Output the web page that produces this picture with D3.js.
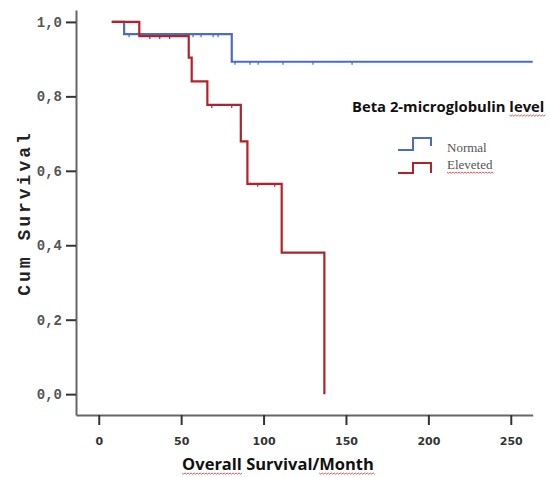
<!DOCTYPE html>
<html>
<head>
<meta charset="utf-8">
<script src="https://cdn.jsdelivr.net/npm/d3@7"></script>
<style>
  body { margin: 0; background: #fff; }
</style>
</head>
<body>
<div class="canvas"></div>
<script>
// data
const groups = ['Normal', 'Eleveted'];
const normalTime = [7.9, 15.4, 80.7, 263.3];
const normalSurv = [1, 0.967, 0.893, 0.893];
const normalCensor = [18.4, 57.2, 62.1, 69.4, 72.4, 82.7, 91.8, 96.7, 111.8, 130, 153.7];
const elevTime = [7.9, 24.6, 54.6, 56.4, 65.9, 86.2, 90.2, 111, 136.9];
const elevSurv = [1, 0.962, 0.904, 0.840, 0.777, 0.679, 0.565, 0.380, 0];
const elevCensor = [31, 37, 43, 68.6, 80.7, 96.5, 106.8];
const xTicks = [0, 50, 100, 150, 200, 250];
const yTicks = [0, 0.2, 0.4, 0.6, 0.8, 1.0];

const colour = { Normal: '#4a6cc6', Eleveted: '#b3222b' };

// svg
const svg = d3.select('.canvas')
  .append('svg')
  .attr('width', 550)
  .attr('height', 477);

// scales
const x = d3.scaleLinear().domain([-13.8, 263.3]).range([76, 532.7]);
const y = d3.scaleLinear().domain([-0.056, 1.032]).range([415, 10]);

// axes
const xAxis = svg.append('g')
  .attr('transform', 'translate(0,415)')
  .call(d3.axisBottom(x).tickValues(xTicks).tickSize(10).tickSizeOuter(0));
xAxis.select('.domain').attr('stroke', '#666').attr('stroke-width', 2);
xAxis.selectAll('.tick line').attr('stroke', '#333').attr('stroke-width', 2);
xAxis.selectAll('.tick text')
  .attr('dy', '1.55em')
  .attr('fill', '#333')
  .style('font-family', 'DejaVu Sans')
  .style('font-size', '11px')
  .style('font-weight', 'bold');

const yAxis = svg.append('g')
  .attr('transform', 'translate(76,0)')
  .call(d3.axisLeft(y).tickValues(yTicks).tickSize(10).tickSizeOuter(0)
    .tickFormat(d => d3.format('.1f')(d).replace('.', ',')));
yAxis.select('.domain').attr('stroke', '#666').attr('stroke-width', 2);
yAxis.selectAll('.tick line').attr('stroke', '#333').attr('stroke-width', 2);
yAxis.selectAll('.tick text')
  .attr('x', -14)
  .attr('fill', '#555')
  .style('font-family', 'Liberation Mono')
  .style('font-size', '14px')
  .style('font-weight', 'bold');

// step curves
const line = d3.line()
  .x(d => x(d[0]))
  .y(d => y(d[1]))
  .curve(d3.curveStepAfter);

const series = [
  { name: 'Normal', pts: d3.zip(normalTime, normalSurv), cens: normalCensor, width: 2.2 },
  { name: 'Eleveted', pts: d3.zip(elevTime, elevSurv), cens: elevCensor, width: 2.2 }
];

// survival value at time t
const survAt = (pts, t) => {
  let s = pts[0][1];
  pts.forEach(p => { if (p[0] <= t) s = p[1]; });
  return s;
};

series.forEach(s => {
  svg.append('path')
    .attr('d', line(s.pts))
    .attr('fill', 'none')
    .attr('stroke', colour[s.name])
    .attr('stroke-width', s.width);

  svg.selectAll(null)
    .data(s.cens)
    .enter()
    .append('line')
    .attr('x1', d => x(d)).attr('x2', d => x(d))
    .attr('y1', d => y(survAt(s.pts, d)))
    .attr('y2', d => y(survAt(s.pts, d)) + 3)
    .attr('stroke', colour[s.name])
    .attr('stroke-width', 1.2);
});

// axis titles
svg.append('text')
  .attr('transform', 'translate(30,213) rotate(-90)')
  .attr('text-anchor', 'middle')
  .attr('fill', '#222')
  .style('font-family', 'Liberation Mono')
  .style('font-size', '18px')
  .style('font-weight', 'bold')
  .style('letter-spacing', '3px')
  .text('Cum Survival');

const xTitle = svg.append('text')
  .attr('x', 278)
  .attr('y', 470)
  .attr('text-anchor', 'middle')
  .attr('fill', '#111')
  .style('font-family', 'Open Sans')
  .style('font-size', '16.5px')
  .style('font-weight', 'bold')
  .text('Overall Survival/Month');

// legend
const legTitle = svg.append('text')
  .attr('x', 352)
  .attr('y', 112)
  .attr('fill', '#111')
  .style('font-family', 'Open Sans')
  .style('font-size', '14.8px')
  .style('font-weight', 'bold')
  .text('Beta 2-microglobulin level');

const legend = svg.selectAll('.legend')
  .data(groups)
  .enter()
  .append('g')
  .attr('class', 'legend')
  .attr('transform', (d, i) => `translate(398, ${150 + i * 23})`);

legend.append('path')
  .attr('d', (d, i) => i === 0 ? 'M0,0H15V-12H33V-4' : 'M0,0H15V-10H33V0')
  .attr('fill', 'none')
  .attr('stroke', d => colour[d])
  .attr('stroke-width', 2);

const legText = legend.append('text')
  .attr('x', 49)
  .attr('y', (d, i) => i === 0 ? 2 : -4)
  .attr('fill', '#555')
  .style('font-family', 'Liberation Serif')
  .style('font-size', '13px')
  .text(d => d);

// red spell-check squiggles
const squiggle = (textNode, from, to) => {
  const a = textNode.getStartPositionOfChar(from);
  const b = textNode.getEndPositionOfChar(to);
  const m = textNode.getCTM();
  const x0 = a.x + m.e, x1 = b.x + m.e, yy = a.y + m.f + 3;
  let d = `M${x0},${yy}`;
  for (let xx = x0, k = 0; xx < x1; xx += 1.5, k++) {
    d += `L${xx + 1.5},${yy + (k % 2 ? 0 : 1.2)}`;
  }
  svg.append('path')
    .attr('d', d)
    .attr('fill', 'none')
    .attr('stroke', '#e03030')
    .attr('stroke-width', 0.8);
};

squiggle(legTitle.node(), 21, 25);
squiggle(xTitle.node(), 0, 6);
squiggle(xTitle.node(), 17, 21);
squiggle(legText.nodes()[1], 0, 7);
</script>
</body>
</html>
